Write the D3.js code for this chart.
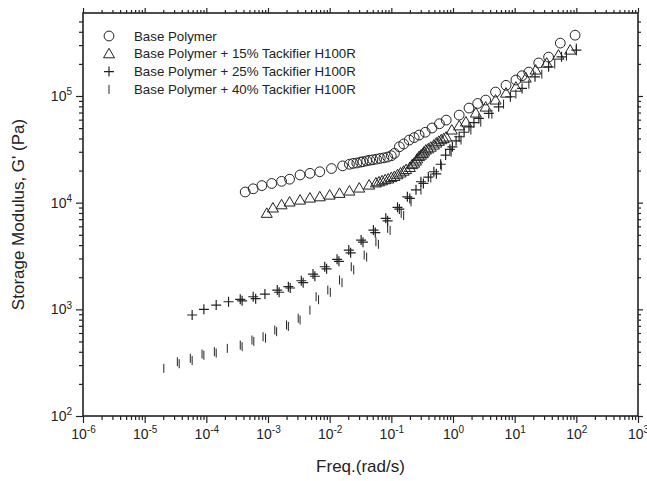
<!DOCTYPE html>
<html>
<head>
<meta charset="utf-8">
<script src="https://cdn.jsdelivr.net/npm/d3@7"></script>
<style>
  body { margin: 0; background: #fff; }
  text { font-family: "Liberation Sans", Arial, sans-serif; fill: #222; }
</style>
</head>
<body>
<script>
// values: [freq rad/s (log10), G' Pa (log10)]
var basePolymer = [
  [-3.37,4.10],[-3.24,4.13],[-3.10,4.16],[-2.94,4.18],[-2.78,4.20],[-2.65,4.22],
  [-2.48,4.26],[-2.32,4.275],[-2.16,4.29],[-1.97,4.32],[-1.79,4.345],[-1.68,4.36],
  [-1.62,4.368],[-1.56,4.372],[-1.50,4.38],[-1.46,4.384],[-1.40,4.392],[-1.35,4.398],
  [-1.30,4.402],[-1.24,4.408],[-1.18,4.415],[-1.12,4.42],[-1.06,4.428],[-1.00,4.44],
  [-0.95,4.462],[-0.87,4.524],[-0.80,4.55],[-0.71,4.587],[-0.63,4.61],[-0.55,4.634],
  [-0.45,4.66],[-0.34,4.70],[-0.22,4.74],[-0.11,4.774],[0.10,4.821],[0.26,4.887],
  [0.40,4.93],[0.53,4.962],[0.69,5.037],[0.86,5.10],[1.02,5.15],[1.12,5.19],
  [1.23,5.224],[1.39,5.31],[1.55,5.365],[1.74,5.496],[1.98,5.57]
];
var tack15 = [
  [-3.02,3.90],[-2.92,3.95],[-2.78,3.98],[-2.65,4.006],[-2.48,4.024],[-2.32,4.043],
  [-2.16,4.055],[-2.00,4.071],[-1.84,4.087],[-1.68,4.109],[-1.52,4.137],[-1.36,4.165],
  [-1.25,4.185],[-1.20,4.195],[-1.15,4.205],[-1.10,4.215],[-1.05,4.222],[-1.00,4.235],
  [-0.95,4.245],[-0.90,4.262],[-0.85,4.278],[-0.80,4.295],[-0.76,4.31],[-0.70,4.33],
  [-0.66,4.357],[-0.63,4.37],[-0.60,4.39],[-0.58,4.41],[-0.55,4.432],[-0.52,4.445],
  [-0.49,4.46],[-0.47,4.475],[-0.44,4.493],[-0.40,4.505],[-0.36,4.52],[-0.31,4.54],
  [-0.27,4.559],[-0.23,4.575],[-0.19,4.59],[-0.15,4.60],[-0.11,4.615],[-0.02,4.681],
  [0.10,4.72],[0.21,4.756],[0.37,4.84],[0.53,4.896],[0.69,4.962],[0.86,5.027],
  [1.02,5.083],[1.18,5.168],[1.34,5.243],[1.52,5.308],[1.71,5.383],[1.90,5.43]
];
var tack25 = [
  [-4.23,2.947],[-4.04,3.00],[-3.84,3.04],[-3.64,3.071],[-3.45,3.094],[-3.42,3.08],
  [-3.24,3.118],[-3.20,3.10],[-3.05,3.143],[-2.85,3.181],[-2.82,3.16],[-2.67,3.212],
  [-2.64,3.20],[-2.46,3.268],[-2.43,3.25],[-2.27,3.331],[-2.24,3.31],[-2.08,3.399],
  [-2.05,3.38],[-1.88,3.469],[-1.85,3.45],[-1.69,3.556],[-1.66,3.53],[-1.49,3.649],
  [-1.46,3.63],[-1.29,3.743],[-1.26,3.72],[-1.09,3.853],[-1.06,3.83],[-0.90,3.956],
  [-0.87,3.94],[-0.74,4.055],[-0.70,4.04],[-0.60,4.12],[-0.52,4.196],[-0.48,4.18],
  [-0.40,4.24],[-0.31,4.29],[-0.27,4.27],[-0.20,4.36],[-0.12,4.446],[-0.05,4.50],
  [-0.01,4.524],[0.05,4.58],[0.10,4.618],[0.18,4.66],[0.26,4.711],[0.34,4.75],
  [0.42,4.79],[0.58,4.837],[0.74,4.899],[0.93,4.993],[1.12,5.071],[1.33,5.18],
  [1.55,5.274],[1.76,5.367],[2.00,5.43]
];
var tack40 = [
  [-4.69,2.447],[-4.47,2.509],[-4.44,2.49],[-4.26,2.541],[-4.23,2.52],[-4.07,2.581],
  [-4.04,2.57],[-3.87,2.603],[-3.84,2.59],[-3.66,2.634],[-3.45,2.665],[-3.42,2.65],
  [-3.26,2.712],[-3.23,2.70],[-3.08,2.743],[-3.04,2.73],[-2.89,2.806],[-2.86,2.79],
  [-2.70,2.853],[-2.67,2.84],[-2.51,2.916],[-2.48,2.90],[-2.32,2.993],[-2.22,3.118],
  [-2.18,3.09],[-2.03,3.181],[-1.99,3.16],[-1.84,3.275],[-1.80,3.25],[-1.65,3.399],
  [-1.61,3.37],[-1.44,3.509],[-1.40,3.49],[-1.25,3.634],[-1.21,3.61],[-1.06,3.759],
  [-1.02,3.74],[-0.84,3.90],[-0.80,3.88],[-0.68,4.008],[-0.52,4.118],[-0.36,4.231],
  [-0.19,4.343],[-0.03,4.474],[0.13,4.587],[0.29,4.68],[0.45,4.755],[0.63,4.83],
  [0.82,4.924],[1.02,5.018],[1.23,5.111],[1.44,5.205],[1.65,5.299],[1.84,5.374],
  [2.00,5.45]
];
var seriesNames = [
  "Base Polymer",
  "Base Polymer + 15% Tackifier H100R",
  "Base Polymer + 25% Tackifier H100R",
  "Base Polymer + 40% Tackifier H100R"
];
var xDecades = [-6,-5,-4,-3,-2,-1,0,1,2,3];
var yDecades = [2,3,4,5];

var width = 647, height = 481;
var mLeft = 83, mRight = 638, mTop = 13, mBottom = 416;

var svg = d3.select('body').append('svg').attr('width', width).attr('height', height);

var x = d3.scaleLog().domain([1e-6, 1e3]).range([mLeft, mRight]);
var y = d3.scaleLog().domain([100, 6e5]).range([mBottom, mTop]);

function minors(dom) {
  var out = [];
  var lo = Math.floor(Math.log10(dom[0])), hi = Math.ceil(Math.log10(dom[1]));
  for (var e = lo; e < hi; e++) {
    for (var m = 2; m <= 9; m++) {
      var v = m * Math.pow(10, e);
      if (v > dom[0] && v < dom[1]) out.push(v);
    }
  }
  return out;
}
var xMajor = xDecades.map(function(d) { return Math.pow(10, d); });
var yMajor = yDecades.map(function(d) { return Math.pow(10, d); });

function styleAxis(g) {
  g.select('.domain').remove();
  g.selectAll('line').attr('stroke', '#222').attr('stroke-width', 1.2);
}

// minor ticks
svg.append('g').attr('transform', 'translate(0,' + mBottom + ')')
  .call(d3.axisBottom(x).tickValues(minors(x.domain())).tickSize(4).tickFormat(''))
  .call(styleAxis);
svg.append('g').attr('transform', 'translate(' + mLeft + ',0)')
  .call(d3.axisLeft(y).tickValues(minors(y.domain())).tickSize(4).tickFormat(''))
  .call(styleAxis);
svg.append('g').attr('transform', 'translate(' + mRight + ',0)')
  .call(d3.axisRight(y).tickValues(minors(y.domain())).tickSize(3).tickFormat(''))
  .call(styleAxis);
svg.append('g').attr('transform', 'translate(0,' + mTop + ')')
  .call(d3.axisTop(x).tickValues(minors(x.domain())).tickSize(3).tickFormat(''))
  .call(styleAxis);

// major ticks with labels
function powerLabels(g, exps) {
  g.selectAll('text').each(function(d, i) {
    var t = d3.select(this).text('');
    t.append('tspan').text('10');
    t.append('tspan').attr('dy', '-0.55em').attr('font-size', '10px').text(exps[i]);
  });
}
var gx = svg.append('g').attr('transform', 'translate(0,' + mBottom + ')')
  .call(d3.axisBottom(x).tickValues(xMajor).tickSize(7).tickPadding(6).tickFormat(function(){ return 'x'; }))
  .call(styleAxis);
gx.selectAll('text').attr('font-size', '14px').attr('fill', '#333');
powerLabels(gx, xDecades);

var gy = svg.append('g').attr('transform', 'translate(' + mLeft + ',0)')
  .call(d3.axisLeft(y).tickValues(yMajor).tickSize(7).tickPadding(4).tickFormat(function(){ return 'x'; }))
  .call(styleAxis);
gy.selectAll('text').attr('font-size', '14px').attr('fill', '#333');
powerLabels(gy, yDecades);

svg.append('g').attr('transform', 'translate(' + mRight + ',0)')
  .call(d3.axisRight(y).tickValues(yMajor).tickSize(5).tickFormat(''))
  .call(styleAxis);
svg.append('g').attr('transform', 'translate(0,' + mTop + ')')
  .call(d3.axisTop(x).tickValues(xMajor).tickSize(5).tickFormat(''))
  .call(styleAxis);

// frame
svg.append('rect').attr('x', mLeft).attr('y', mTop)
  .attr('width', mRight - mLeft).attr('height', mBottom - mTop)
  .attr('fill', 'none').attr('stroke', '#222').attr('stroke-width', 1.6);

// axis titles
svg.append('text').attr('x', (mLeft + mRight) / 2).attr('y', 472)
  .attr('text-anchor', 'middle').attr('font-size', '17px').text('Freq.(rad/s)');
svg.append('text').attr('transform', 'translate(24,' + ((mTop + mBottom) / 2) + ') rotate(-90)')
  .attr('text-anchor', 'middle').attr('font-size', '17px').text("Storage Modulus, G' (Pa)");

// markers
var ink = '#222';
function px(d) { return x(Math.pow(10, d[0])); }
function py(d) { return y(Math.pow(10, d[1])); }

var symbols = [
  function(g) { g.append('circle').attr('r', 4.9).attr('fill', 'none').attr('stroke', ink).attr('stroke-width', 1); },
  function(g) { g.append('path').attr('d', 'M-5.5,4L5.5,4L0,-5.5Z').attr('fill', 'none').attr('stroke', ink).attr('stroke-width', 1); },
  function(g) { g.append('path').attr('d', 'M-5,0H5M0,-5V5').attr('stroke', ink).attr('stroke-width', 1.2); },
  function(g) { g.append('path').attr('d', 'M0,-4.5V4.5').attr('stroke', ink).attr('stroke-width', 1); }
];
var allSeries = [basePolymer, tack15, tack25, tack40];

allSeries.forEach(function(data, k) {
  svg.append('g').selectAll('g').data(data).enter().append('g')
    .attr('transform', function(d) { return 'translate(' + px(d) + ',' + py(d) + ')'; })
    .each(function() { symbols[k](d3.select(this)); });
});

// legend
var leg = svg.append('g');
seriesNames.forEach(function(name, i) {
  var yy = 36 + i * 17.8;
  var s = leg.append('g').attr('transform', 'translate(109,' + yy + ')');
  symbols[i](s);
  leg.append('text').attr('x', 134).attr('y', yy + 4.5).attr('font-size', '13.3px').text(name);
});
</script>
</body>
</html>
